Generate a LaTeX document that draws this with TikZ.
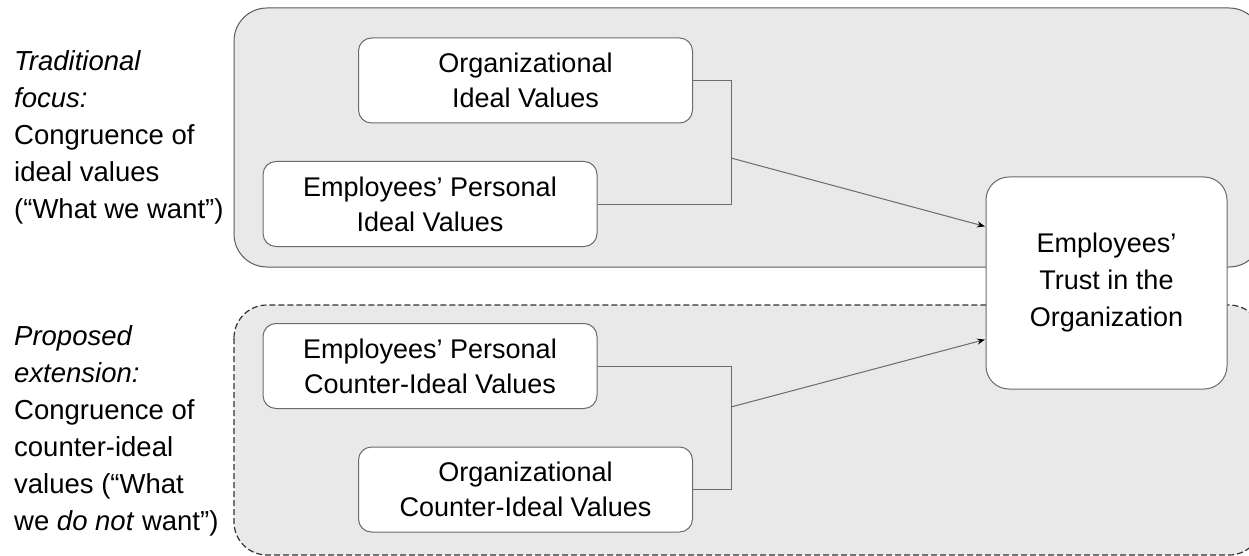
\documentclass[tikz,border=0pt]{standalone}
\usepackage{fontspec}
\setmainfont{Liberation Sans}
\usetikzlibrary{arrows.meta}
\definecolor{mgrey}{gray}{0.914}
\definecolor{mline}{gray}{0.42}
\definecolor{mdark}{gray}{0.2}

\tikzset{
  valbox/.style={draw=mline, fill=white, line width=1pt, rounded corners=13pt,
    minimum width=334pt, minimum height=85pt, inner sep=0pt, align=center,
    font=\fontsize{27}{35}\selectfont},
  trustbox/.style={valbox, rounded corners=23pt, minimum width=241pt, minimum height=212pt,
    font=\fontsize{27}{37}\selectfont},
  sidetext/.style={align=left, inner sep=0pt, anchor=west, font=\fontsize{27.5}{37}\selectfont},
  link/.style={draw=mline, line width=1pt},
  arrowline/.style={link, -{Stealth[length=8pt, width=6pt, black]}, shorten >=0.5pt},
}

\begin{document}
\begin{tikzpicture}[x=1pt, y=-1pt]
    \useasboundingbox (0, 0) rectangle (1249, 556);

    % the two groups
    \draw [fill=mgrey, draw=mdark!80, line width=1pt, rounded corners=33pt] (234, 8) rectangle (1262, 267);
    \draw [fill=mgrey, draw=mdark, line width=1.2pt, dash pattern=on 6pt off 3pt, rounded corners=33pt] (234, 305) rectangle (1262, 555);

    \node [sidetext] (tradnote) at (14, 137) {\textit{Traditional}\\ \textit{focus:}\\ Congruence of\\ ideal values\\ (“What we want”)};
    \node [sidetext] (extnote) at (14, 431) {\textit{Proposed}\\ \textit{extension:}\\ Congruence of\\ counter-ideal\\ values (“What\\ we \textit{do not} want”)};

    \node [valbox] (orgideal) at (525.5, 80.5) {Organizational\\ Ideal Values};
    \node [valbox] (empideal) at (430, 204) {Employees’ Personal\\ Ideal Values};
    \node [valbox] (empcounter) at (430, 366) {Employees’ Personal\\ Counter-Ideal Values};
    \node [valbox] (orgcounter) at (525.5, 489.5) {Organizational\\ Counter-Ideal Values};

    \node [trustbox] (trust) at (1106.5, 283) {Employees’\\ Trust in the\\ Organization};

    \coordinate (topbar) at (731, 158);
    \coordinate (botbar) at (731, 407);

    \draw [link] (orgideal.east) -| (topbar) |- (empideal.east);
    \draw [link] (empcounter.east) -| (botbar) |- (orgcounter.east);
    \draw [arrowline] (topbar) -- (trust.155);
    \draw [arrowline] (botbar) -- (trust.205);

  \end{tikzpicture}
\end{document}
